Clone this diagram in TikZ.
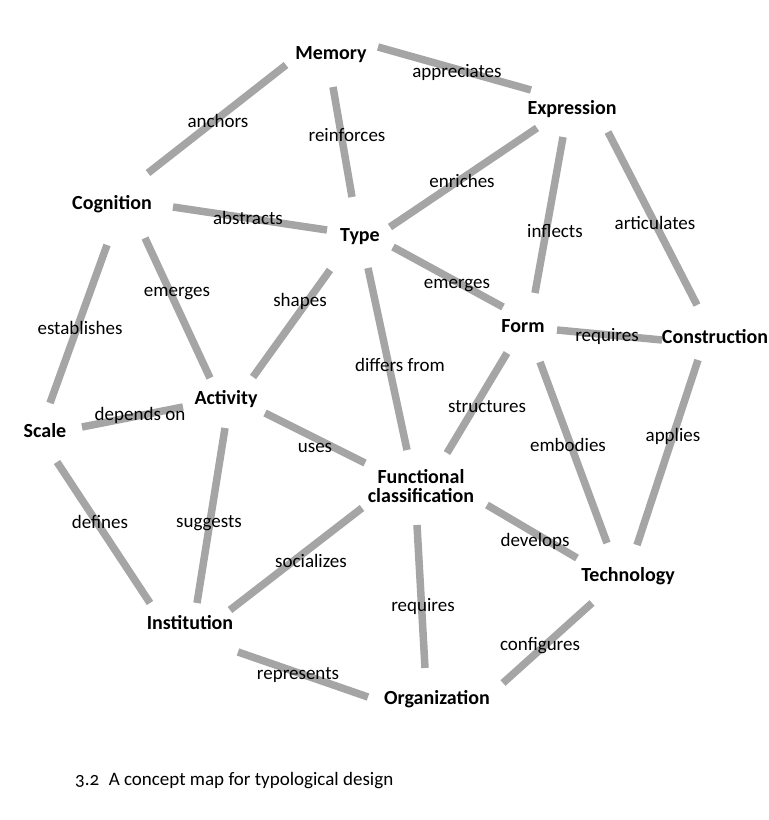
\documentclass[tikz,border=0pt]{standalone}
\usepackage{fontspec}
\setmainfont{Carlito}
\usetikzlibrary{calc}
\definecolor{bargray}{RGB}{165,165,165}
\tikzset{
  one/.style={text height=0.95em, text depth=0pt},
  concept/.style={inner sep=0pt, font=\fontsize{20}{19}\selectfont\bfseries, one},
  lbl/.style={inner sep=0pt, font=\fontsize{19}{19}\selectfont, one},
  bar/.style={line width=7.5pt, draw=bargray, line cap=butt}
}
\begin{document}
\begin{tikzpicture}[x=1pt,y=-1pt]
\fill[white] (0,0) rectangle (769,820);
\useasboundingbox (0,0) rectangle (769,820);

% concepts
\node[concept] (mem) at (331,55) {Memory};
\node[concept] (exp) at (572,110) {Expression};
\node[concept] (cog) at (112,205) {Cognition};
\node[concept] (typ) at (360,237) {Type};
\node[concept] (frm) at (523,328) {Form};
\node[concept] (con) at (715,339) {Construction};
\node[concept] (act) at (226,400) {Activity};
\node[concept] (sca) at (45,433) {Scale};
\node[inner sep=0pt, font=\fontsize{20}{19}\selectfont\bfseries, align=center] (fun) at (421,486) {Functional\\classification};
\node[concept] (tec) at (628,577) {Technology};
\node[concept] (ins) at (190,625) {Institution};
\node[concept] (org) at (437,700) {Organization};

% bars
\draw[bar] ($(mem)+(47,-8)$) -- ($(exp)+(-41,-20)$);
\draw[bar] ($(mem)+(-45,10)$) -- ($(cog)+(36,-32)$);
\draw[bar] ($(mem)+(2,32)$) -- ($(typ)+(-8,-40)$);
\draw[bar] ($(cog)+(61,2)$) -- ($(typ)+(-33,-7)$);
\draw[bar] ($(exp)+(-35,18)$) -- ($(typ)+(30,-10)$);
\draw[bar] ($(exp)+(-9,27)$) -- ($(frm)+(12,-35)$);
\draw[bar] ($(exp)+(36,22)$) -- ($(con)+(-18,-34)$);
\draw[bar] ($(typ)+(33,10)$) -- ($(frm)+(-20,-21)$);
\draw[bar] ($(frm)+(34,2)$) -- ($(con)+(-53,1)$);
\draw[bar] ($(cog)+(-5,40)$) -- ($(sca)+(5,-30)$);
\draw[bar] ($(cog)+(33,33)$) -- ($(act)+(-16,-22)$);
\draw[bar] ($(typ)+(-30,33)$) -- ($(act)+(27,-23)$);
\draw[bar] ($(typ)+(8,31)$) -- ($(fun)+(-14,-36)$);
\draw[bar] ($(sca)+(37,-6)$) -- ($(act)+(-43,7)$);
\draw[bar] ($(act)+(39,13)$) -- ($(fun)+(-56,-23)$);
\draw[bar] ($(sca)+(12,29)$) -- ($(ins)+(-40,-22)$);
\draw[bar] ($(act)+(-1,28)$) -- ($(ins)+(7,-22)$);
\draw[bar] ($(fun)+(-59,22)$) -- ($(ins)+(40,-15)$);
\draw[bar] ($(frm)+(-16,25)$) -- ($(fun)+(26,-33)$);
\draw[bar] ($(frm)+(17,34)$) -- ($(tec)+(-21,-34)$);
\draw[bar] ($(con)+(-17,21)$) -- ($(tec)+(9,-32)$);
\draw[bar] ($(fun)+(66,19)$) -- ($(tec)+(-51,-19)$);
\draw[bar] ($(fun)+(-4,39)$) -- ($(org)+(-12,-32)$);
\draw[bar] ($(tec)+(-36,26)$) -- ($(org)+(66,-17)$);
\draw[bar] ($(ins)+(48,27)$) -- ($(org)+(-69,-3)$);

% labels
\node[lbl] (l1) at (457,73) {appreciates};
\node[lbl] (l2) at (218,123) {anchors};
\node[lbl] (l3) at (347,137) {reinforces};
\node[lbl] (l4) at (462,183) {enriches};
\node[lbl] (l5) at (248,220) {abstracts};
\node[lbl] (l6) at (555,233) {inflects};
\node[lbl] (l7) at (655,225) {articulates};
\node[lbl] (l8) at (457,284) {emerges};
\node[lbl] (l9) at (177,292) {emerges};
\node[lbl] (l10) at (300,302) {shapes};
\node[lbl] (l11) at (80,330) {establishes};
\node[lbl] (l12) at (400,367) {differs from};
\node[lbl] (l13) at (607,337) {requires};
\node[lbl] (l14) at (487,408) {structures};
\node[lbl] (l15) at (140,416) {depends on};
\node[lbl] (l16) at (315,448) {uses};
\node[lbl] (l17) at (568,447) {embodies};
\node[lbl] (l18) at (673,437) {applies};
\node[lbl] (l19) at (100,524) {defines};
\node[lbl] (l20) at (209,523) {suggests};
\node[lbl] (l21) at (535,542) {develops};
\node[lbl] (l22) at (311,563) {socializes};
\node[lbl] (l23) at (423,607) {requires};
\node[lbl] (l24) at (540,646) {configures};
\node[lbl] (l25) at (298,675) {represents};

\node[inner sep=0pt, anchor=base west, font=\fontsize{19}{19}\selectfont\addfontfeatures{Numbers=OldStyle}] (cap) at (75,785) {3.2\hspace{0.5em}A concept map for typological design};
\end{tikzpicture}
\end{document}
